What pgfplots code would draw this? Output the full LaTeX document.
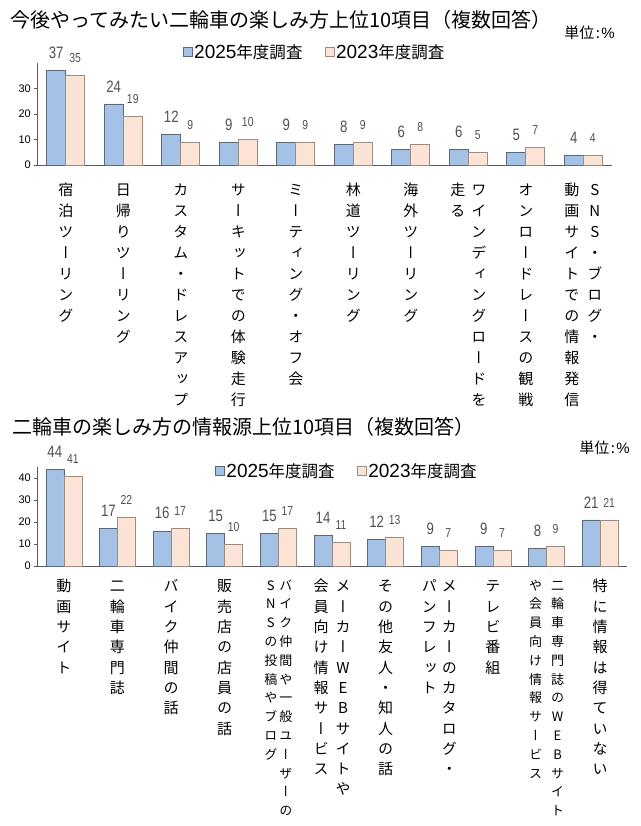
\documentclass[border=0pt]{standalone}
\usepackage{fontspec}
\usepackage{pgfplots}
\pgfplotsset{compat=1.18}
\setmainfont{Liberation Sans}
\newfontfamily\jp{Noto Sans CJK JP}
\newfontfamily\jpv{Noto Sans CJK JP}[RawFeature=+vert]
\newfontfamily\narrow{Liberation Sans}[FakeStretch=0.8]

\definecolor{bluebar}{HTML}{A4C2E6}
\definecolor{blueedge}{HTML}{59687A}
\definecolor{pinkbar}{HTML}{FBE3D5}
\definecolor{pinkedge}{HTML}{9C8B80}
\definecolor{lblgray}{HTML}{505050}
\definecolor{axisgray}{HTML}{5A5A5A}

% one column of vertically set characters
\makeatletter
\def\vc@end{\vc@end@}
\newcommand\vcol[2][21pt]{\vtop{\baselineskip=#1\lineskiplimit=-100pt\lineskip=0pt\vc@loop#2\vc@end}}
\def\vc@loop#1{\ifx#1\vc@end\else\hbox to 1em{\hss\vrule height .88em depth .12em width 0pt#1\hss}\expandafter\vc@loop\fi}
\makeatother

\newcommand\titlefont{\fontsize{20}{22}\selectfont\jp}
\newcommand\unitfont{\fontsize{15}{16}\selectfont\jp}
\newcommand\unittext{単位\kern1.5pt:\kern1.5pt{\rmfamily\%}}
\newcommand\lgdfont{\fontsize{16.5}{18}\selectfont\jp}
\newcommand\lgdnum[1]{{\fontsize{19}{19}\selectfont\rmfamily #1}}
\newcommand\bigval{\fontsize{16.5}{17}\selectfont\narrow}
\newcommand\smallval{\fontsize{13}{14}\selectfont\narrow}
\newcommand\smallcol{\fontsize{13}{14}\selectfont\jpv}

\pgfplotsset{
  survey/.style={
    scale only axis,
    ymin=0,
    axis x line*=bottom, axis y line*=left,
    axis line style={axisgray, line width=1pt, -},
    xtick style={draw=none},
    ytick style={axisgray, line width=0.7pt},
    tick align=outside, major tick length=3pt,
    /pgf/number format/assume math mode=true,
    yticklabel style={font=\fontsize{11}{11}\selectfont\rmfamily, inner sep=1pt, xshift=-2pt},
    xticklabel style={anchor=north, inner sep=0pt, font=\fontsize{15}{21}\selectfont\jpv},
    clip=false,
    ybar=0pt,
    every axis plot post/.append style={
      legend image code/.code={\draw[##1, line width=0.6pt] (0pt,-4.5pt) rectangle (9pt,4.5pt);}},
    legend style={draw=none, fill=none, legend columns=2, inner sep=0pt,
      font=\lgdfont, /tikz/every even column/.append style={column sep=20pt},
      nodes={inner sep=2pt}},
  },
  new25/.style={fill=bluebar, draw=blueedge, line width=0.6pt,
    nodes near coords, nodes near coords style={font=\bigval, text=lblgray,
      anchor=south, inner sep=0pt, yshift=11.5pt}},
  old23/.style={fill=pinkbar, draw=pinkedge, line width=0.6pt,
    nodes near coords, nodes near coords style={font=\smallval, text=lblgray,
      anchor=south, inner sep=0pt, yshift=12.5pt}},
}

\begin{document}
\begin{tikzpicture}
\path[use as bounding box] (0pt,0pt) rectangle (640pt,-826pt);

% ---- activities people want to try ----
\node[anchor=west, inner sep=0pt, font=\titlefont] at (10pt,-20pt)
  {今後やってみたい二輪車の楽しみ方上位10項目（複数回答）};
\node[anchor=east, inner sep=0pt, font=\unitfont] at (615pt,-33pt) {\unittext};

\begin{axis}[survey,
  at={(37pt,-165pt)}, anchor=south west,
  width=575pt, height=102pt,
  xmin=-0.5, xmax=9.5, ymax=40,
  ytick={0,10,20,30},
  xtick={0,...,9},
  bar width=19pt,
  xticklabel style={yshift=-14.5pt},
  xticklabels={
    \vcol{宿泊ツーリング},
    \vcol{日帰りツーリング},
    \vcol{カスタム・ドレスアップ},
    \vcol{サーキットでの体験走行},
    \vcol{ミーティング・オフ会},
    \vcol{林道ツーリング},
    \vcol{海外ツーリング},
    \hbox{\vcol{走る}\hskip6pt\vcol{ワインディングロードを}},
    \vcol{オンロードレースの観戦},
    \hbox{\vcol{動画サイトでの情報発信}\hskip8pt\vcol{SNS・ブログ・}}},
  legend style={at={(0.4826,1.108)}, anchor=center},
]
\addplot[new25] coordinates {(0,37) (1,24) (2,12) (3,9) (4,9) (5,8) (6,6) (7,6) (8,5) (9,4)};
\addplot[old23] coordinates {(0,35) (1,19) (2,9) (3,10) (4,9) (5,9) (6,8) (7,5) (8,7) (9,4)};
\addlegendentry{\lgdnum{2025}年度調査}
\addlegendentry{\lgdnum{2023}年度調査}
\end{axis}

% ---- where riders get their information ----
\node[anchor=west, inner sep=0pt, font=\titlefont] at (12pt,-427pt)
  {二輪車の楽しみ方の情報源上位10項目（複数回答）};
\node[anchor=east, inner sep=0pt, font=\unitfont] at (630pt,-448pt) {\unittext};

\begin{axis}[survey,
  at={(37pt,-566pt)}, anchor=south west,
  width=590pt, height=99pt,
  xmin=-0.5, xmax=10.5, ymax=45,
  ytick={0,10,20,30,40},
  xtick={0,...,10},
  bar width=18pt,
  xticklabel style={yshift=-9.5pt, font=\fontsize{15}{20.3}\selectfont\jpv},
  xticklabels={
    \vcol[20.3pt]{動画サイト},
    \vcol[20.3pt]{二輪車専門誌},
    \vcol[20.3pt]{バイク仲間の話},
    \vcol[20.3pt]{販売店の店員の話},
    \hbox{\smallcol\vcol[18.8pt]{SNSの投稿やブログ}\hskip2pt\vcol[18.8pt]{バイク仲間や一般ユーザーの}},
    \hbox{\vcol[20.3pt]{会員向け情報サービス}\hskip7pt\vcol[20.3pt]{メーカーWEBサイトや}},
    \vcol[20.3pt]{その他友人・知人の話},
    \hbox{\vcol[20.3pt]{パンフレット}\hskip5pt\vcol[20.3pt]{メーカーのカタログ・}},
    \vcol[20.3pt]{テレビ番組},
    \hbox{\smallcol\vcol[18.8pt]{や会員向け情報サービス}\hskip9pt\vcol[18.8pt]{二輪車専門誌のWEBサイト}},
    \vcol[20.3pt]{特に情報は得ていない}},
  legend style={at={(0.525,0.96)}, anchor=center},
]
\addplot[new25] coordinates {(0,44) (1,17) (2,16) (3,15) (4,15) (5,14) (6,12) (7,9) (8,9) (9,8) (10,21)};
\addplot[old23] coordinates {(0,41) (1,22) (2,17) (3,10) (4,17) (5,11) (6,13) (7,7) (8,7) (9,9) (10,21)};
\addlegendentry{\lgdnum{2025}年度調査}
\addlegendentry{\lgdnum{2023}年度調査}
\end{axis}
\end{tikzpicture}
\end{document}
